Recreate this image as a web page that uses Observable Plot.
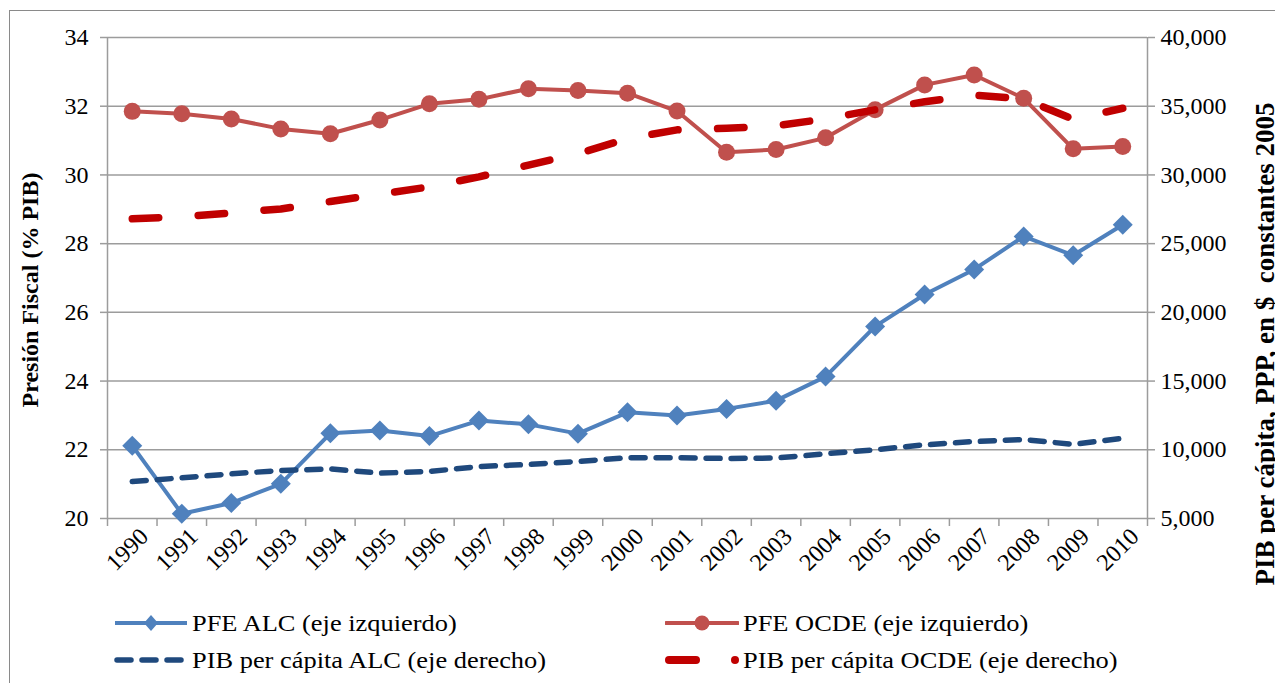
<!DOCTYPE html>
<html><head><meta charset="utf-8">
<script src="https://cdn.jsdelivr.net/npm/d3@7"></script>
<script src="https://cdn.jsdelivr.net/npm/@observablehq/plot@0.6"></script>
<style>
body{margin:0;background:#fff;overflow:hidden;width:1275px;height:683px;position:relative;font-family:"Liberation Serif","Times New Roman",serif;}
#chart svg, #chart svg text{font-family:"Liberation Serif","Times New Roman",serif !important;font-variant:normal !important;}
#border{position:absolute;left:9px;top:10px;width:1400px;height:800px;border:1.5px solid #8a8a8a;pointer-events:none;}
#legend{position:relative;height:83px;width:1275px;}
.item{position:absolute;height:30px;display:flex;align-items:center;font-size:24px;color:#000;white-space:nowrap;}
.item span{display:inline-block;transform:scaleX(1.1);transform-origin:left center;}
</style></head><body>
<div id="chart"></div><div id="legend"></div><div id="border"></div>
<script>
const years = [1990,1991,1992,1993,1994,1995,1996,1997,1998,1999,2000,2001,2002,2003,2004,2005,2006,2007,2008,2009,2010];
const pfeALC = [22.12,20.14,20.45,21.01,22.48,22.56,22.40,22.85,22.74,22.47,23.09,23.00,23.19,23.43,24.13,25.59,26.52,27.25,28.21,27.66,28.55];
const pfeOCDE = [31.85,31.78,31.63,31.34,31.20,31.60,32.07,32.20,32.51,32.46,32.38,31.86,30.66,30.74,31.08,31.90,32.62,32.91,32.23,30.76,30.83];
const pibALC = [7690,7960,8250,8490,8610,8300,8420,8780,8930,9150,9420,9420,9370,9400,9710,10000,10360,10600,10750,10390,10840];
const pibOCDE = [26810,26950,27240,27520,28070,28600,29130,29860,30720,31540,32650,33280,33390,33570,34080,34740,35320,35800,35540,34050,34850];
const leftTicks = [20,22,24,26,28,30,32,34];
const rightTicks = [5000,10000,15000,20000,25000,30000,35000,40000];
const leftTitle = "Presión Fiscal (% PIB)";
const rightTitle = "PIB per cápita, PPP, en $  constantes 2005";
const seriesNames = ["PFE ALC (eje izquierdo)","PFE OCDE (eje izquierdo)","PIB per cápita ALC (eje derecho)","PIB per cápita OCDE (eje derecho)"];

const L0 = leftTicks[0], L1 = leftTicks[leftTicks.length-1];
const R0 = rightTicks[0], R1 = rightTicks[rightTicks.length-1];
const toLeft = v => L0 + (v - R0) * (L1 - L0) / (R1 - R0);
const fromLeft = d => R0 + (d - L0) * (R1 - R0) / (L1 - L0);

const rows = years.map((y, i) => ({year: y, pfeALC: pfeALC[i], pfeOCDE: pfeOCDE[i], pibALC: toLeft(pibALC[i]), pibOCDE: toLeft(pibOCDE[i])}));
const bounds = d3.range(years.length + 1).map(i => years[0] - 0.5 + i);

const C = {blue:"#4F81BD", red:"#C0504D", navy:"#1F497D", dred:"#C00000", grid:"#9c9c9c"};
const serif = '"Liberation Serif","Times New Roman",serif';

const chart = Plot.plot({
  width: 1275, height: 600,
  marginLeft: 107, marginRight: 128, marginTop: 37, marginBottom: 82,
  style: {fontFamily: serif, fontSize: "24px", color: "#000", background: "transparent"},
  x: {domain: [bounds[0], bounds[bounds.length-1]], axis: null},
  y: {domain: [L0, L1], axis: null},
  marks: [
    Plot.ruleY(leftTicks, {stroke: C.grid, strokeWidth: 1.5}),
    Plot.ruleX([bounds[0], bounds[bounds.length-1]], {stroke: C.grid, strokeWidth: 1.5}),
    Plot.axisY(leftTicks, {anchor: "left", tickSize: 7, tickPadding: 12, stroke: C.grid, strokeWidth: 1.5, fill: "#000", fontSize: 24, fontFamily: serif, label: null}),
    Plot.axisY(rightTicks.map(toLeft), {anchor: "right", tickSize: 7, tickPadding: 6, stroke: C.grid, strokeWidth: 1.5, fill: "#000", fontSize: 24, fontFamily: serif, label: null, tickFormat: d => d3.format(",")(Math.round(fromLeft(d)))}),
    Plot.axisX(bounds, {anchor: "bottom", tickSize: 8, stroke: C.grid, strokeWidth: 1.5, tickFormat: () => "", label: null}),
    Plot.axisX(years, {anchor: "bottom", tickSize: 0, tickPadding: 14, dx: 12, tickRotate: -45, fill: "#000", fontSize: 24, fontFamily: serif, tickFormat: d => String(d), label: null}),
    Plot.line(rows, {x: "year", y: "pfeALC", stroke: C.blue, strokeWidth: 4}),
    Plot.dot(rows, {x: "year", y: "pfeALC", symbol: "diamond2", r: 9, fill: C.blue, stroke: "none"}),
    Plot.line(rows, {x: "year", y: "pfeOCDE", stroke: C.red, strokeWidth: 4}),
    Plot.dot(rows, {x: "year", y: "pfeOCDE", r: 8.5, fill: C.red, stroke: "none"}),
    Plot.line(rows, {x: "year", y: "pibALC", stroke: C.navy, strokeWidth: 5.5, strokeDasharray: "14,11", strokeLinecap: "round"}),
    Plot.line(rows, {x: "year", y: "pibOCDE", stroke: C.dred, strokeWidth: 7.5, strokeDasharray: "26.5,39.5", strokeLinecap: "round"}),
    Plot.text([leftTitle], {text: d => d, frameAnchor: "left", textAnchor: "middle", dx: -77, dy: 12, rotate: -90, fontSize: 24, fontWeight: "bold", fontFamily: serif, fill: "#000"}),
    Plot.text([rightTitle], {text: d => d, frameAnchor: "right", textAnchor: "middle", dx: 118, dy: 66, rotate: -90, fontSize: 27, fontWeight: "bold", fontFamily: serif, fill: "#000"})
  ]
});
d3.select(chart).selectAll("text").attr("font-family", serif).attr("font-variant", null).style("font-family", serif);
document.getElementById("chart").appendChild(chart);

// legend
const legend = document.getElementById("legend");
const swatches = [
  `<svg width="74" height="30"><line x1="1" y1="15" x2="73" y2="15" stroke="${C.blue}" stroke-width="4"/><path d="M37 7 L44 15 L37 23 L30 15 Z" fill="${C.blue}"/></svg>`,
  `<svg width="74" height="30"><line x1="1" y1="15" x2="73" y2="15" stroke="${C.red}" stroke-width="4" stroke-linecap="round"/><circle cx="37" cy="15" r="7.5" fill="${C.red}"/></svg>`,
  `<svg width="74" height="30"><line x1="3" y1="15" x2="72" y2="15" stroke="${C.navy}" stroke-width="5.5" stroke-dasharray="14,11" stroke-linecap="round"/></svg>`,
  `<svg width="74" height="30"><line x1="4" y1="15" x2="31" y2="15" stroke="${C.dred}" stroke-width="8" stroke-linecap="round"/><circle cx="70" cy="15" r="4" fill="${C.dred}"/></svg>`
];
const pos = [[114, 8], [665, 8], [114, 45], [665, 45]];
seriesNames.forEach((name, i) => {
  const d = document.createElement("div");
  d.className = "item";
  d.style.left = pos[i][0] + "px";
  d.style.top = pos[i][1] + "px";
  d.innerHTML = swatches[i] + `<span style="margin-left:4px">${name}</span>`;
  legend.appendChild(d);
});
</script>
</body></html>
